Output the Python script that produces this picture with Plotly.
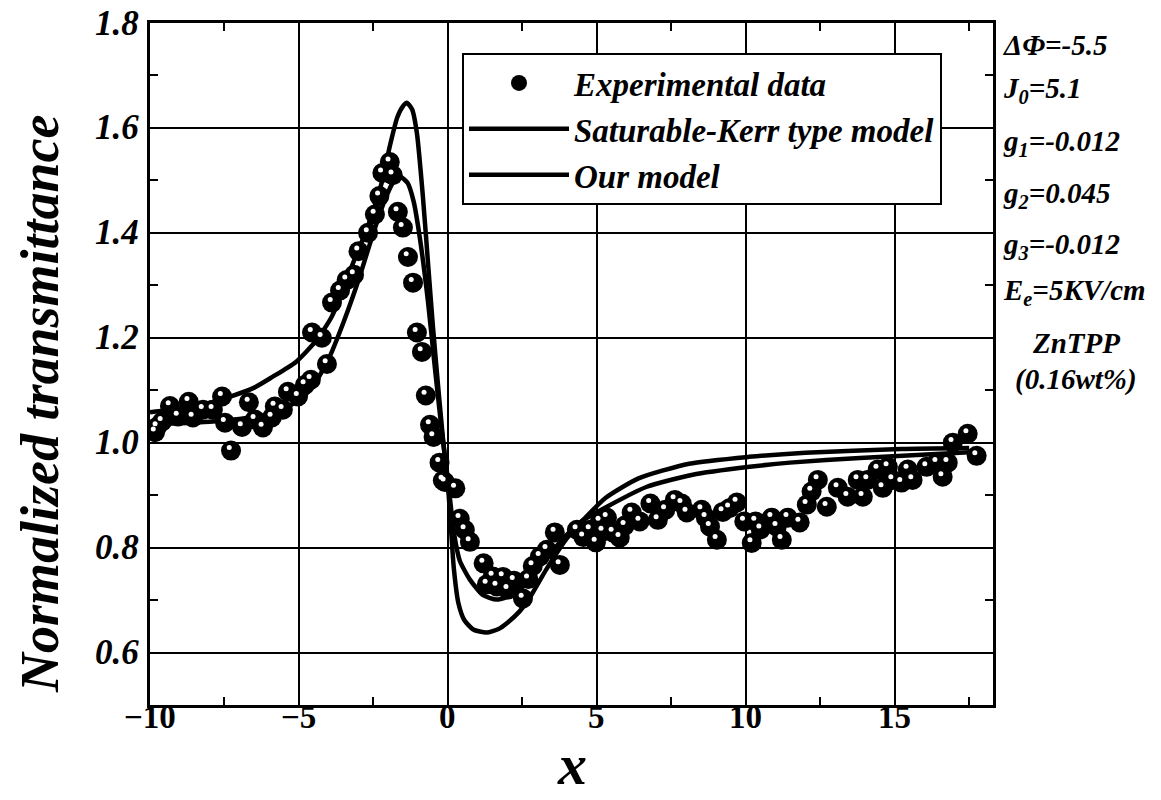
import plotly.graph_objects as go

# ---------------- data ----------------
exp_x = [-9.83, -9.77, -9.6, -9.33, -9.06, -8.7, -8.56, -8.22, -7.89, -7.58,
         -7.48, -7.28, -6.91, -6.68, -6.48, -6.21, -5.91, -5.81, -5.54, -5.37,
         -5.03, -4.8, -4.6, -4.56, -4.23, -4.06, -3.89, -3.62, -3.4, -3.15,
         -3.0, -2.68, -2.45, -2.3, -2.2, -1.95, -1.85, -1.68, -1.51, -1.34,
         -1.17, -1.04, -0.87, -0.74, -0.6, -0.48, -0.28, -0.17, -0.1, 0.25,
         0.4, 0.57, 0.74, 1.2, 1.31, 1.51, 1.64, 1.85, 2.01, 2.22,
         2.52, 2.7, 2.85, 3.09, 3.32, 3.59, 3.76, 4.33, 4.55, 4.77,
         4.97, 5.1, 5.2, 5.34, 5.54, 5.77, 5.94, 6.17, 6.44, 6.8,
         7.05, 7.3, 7.62, 7.85, 8.02, 8.52, 8.66, 8.8, 9.03, 9.23,
         9.45, 9.7, 9.95, 10.2, 10.33, 10.5, 10.87, 11.04, 11.21, 11.41,
         11.81, 12.05, 12.21, 12.42, 12.72, 13.09, 13.42, 13.76, 13.93, 14.09,
         14.43, 14.6, 14.77, 14.93, 15.23, 15.44, 15.6, 16.07, 16.41, 16.61,
         16.78, 16.95, 17.45, 17.75]
exp_y = [1.02, 1.03, 1.04, 1.07, 1.05, 1.078, 1.048, 1.063, 1.063, 1.088,
         1.038, 0.985, 1.03, 1.077, 1.044, 1.029, 1.048, 1.069, 1.063, 1.097,
         1.088, 1.11, 1.12, 1.21, 1.2, 1.15, 1.267, 1.29, 1.31, 1.32,
         1.365, 1.4, 1.435, 1.47, 1.514, 1.535, 1.51, 1.44, 1.41, 1.354,
         1.305, 1.21, 1.173, 1.09, 1.034, 1.011, 0.962, 0.928, 0.925, 0.913,
         0.855, 0.834, 0.811, 0.77, 0.73, 0.745, 0.726, 0.744, 0.72, 0.737,
         0.703, 0.74, 0.765, 0.783, 0.796, 0.829, 0.767, 0.834, 0.82, 0.834,
         0.81, 0.85, 0.831, 0.857, 0.829, 0.819, 0.842, 0.867, 0.85, 0.884,
         0.853, 0.872, 0.891, 0.884, 0.867, 0.872, 0.857, 0.84, 0.815, 0.868,
         0.875, 0.886, 0.85, 0.809, 0.85, 0.835, 0.857, 0.84, 0.815, 0.857,
         0.848, 0.882, 0.907, 0.929, 0.878, 0.914, 0.897, 0.929, 0.897, 0.929,
         0.949, 0.914, 0.954, 0.929, 0.924, 0.949, 0.929, 0.954, 0.962, 0.935,
         0.962, 1.0, 1.017, 0.975]

kerr_x = [-10, -9, -8, -7.3, -6.5, -5.9, -5.1, -4.4, -3.9, -3.6,
          -3.2, -2.7, -2.2, -1.95, -1.7, -1.5, -1.38, -1.2, -1.04, -0.84,
          -0.65, -0.5, -0.3, -0.1, 0.0, 0.1, 0.2, 0.35, 0.55, 0.85,
          1.3, 1.7, 2.0, 2.4, 2.7, 3.3, 4.0, 4.7, 5.3, 6.4,
          8.1, 10.1, 12.0, 15.2, 17.5]
kerr_y = [1.058, 1.065, 1.076, 1.088, 1.105, 1.125, 1.154, 1.196, 1.24, 1.28,
          1.34, 1.41, 1.5, 1.565, 1.62, 1.642, 1.648, 1.635, 1.59, 1.47,
          1.33, 1.22, 1.09, 0.97, 0.92, 0.84, 0.76, 0.695, 0.662, 0.644,
          0.638, 0.645, 0.657, 0.678, 0.7, 0.758, 0.818, 0.862, 0.895, 0.932,
          0.96, 0.973, 0.981, 0.988, 0.99]

our_x = [-10, -9, -8, -7, -6, -5, -4.5, -4.0, -3.5, -3.0,
         -2.5, -2.1, -1.8, -1.6, -1.35, -1.15, -0.94, -0.67, -0.45, -0.2,
         0.0, 0.2, 0.4, 0.74, 1.17, 1.64, 2.32, 3.0, 3.6, 4.0,
         4.43, 5.34, 6.68, 8.22, 10.13, 11.48, 13.83, 17.5]
our_y = [1.035, 1.037, 1.04, 1.045, 1.055, 1.08, 1.11, 1.16, 1.23, 1.31,
         1.4, 1.465, 1.5, 1.507, 1.495, 1.46, 1.39, 1.27, 1.15, 1.02,
         0.93, 0.83, 0.775, 0.739, 0.71, 0.701, 0.714, 0.76, 0.8, 0.825,
         0.848, 0.878, 0.916, 0.939, 0.954, 0.962, 0.971, 0.982]

x_ticks = [-10, -5, 0, 5, 10, 15]
y_ticks = [0.6, 0.8, 1.0, 1.2, 1.4, 1.6, 1.8]
params = ["ΔΦ=-5.5", "J<sub>0</sub>=5.1", "g<sub>1</sub>=-0.012", "g<sub>2</sub>=0.045",
          "g<sub>3</sub>=-0.012", "E<sub>e</sub>=5KV/cm"]
sample = ["ZnTPP", "(0.16wt%)"]

# ---------------- figure ----------------
SERIF = "'Times New Roman', 'Liberation Serif', Times, serif"
BI = dict(family=SERIF, color="black", weight="bold", style="italic")
fig = go.Figure()

fig.add_trace(go.Scatter(x=kerr_x, y=kerr_y, mode="lines", name="Saturable-Kerr type model",
                         line=dict(color="black", width=4.5, shape="spline", smoothing=0.6)))
fig.add_trace(go.Scatter(x=our_x, y=our_y, mode="lines", name="Our model",
                         line=dict(color="black", width=4.5, shape="spline", smoothing=0.6)))
fig.add_trace(go.Scatter(x=exp_x, y=exp_y, mode="markers", name="Experimental data",
                         marker=dict(color="black", size=20, symbol="circle", line=dict(width=0))))
# specular highlight of each ball (slightly up-left of the centre)
fig.add_trace(go.Scatter(x=[v - 0.06 for v in exp_x], y=[v + 0.006 for v in exp_y],
                         mode="markers", showlegend=False, hoverinfo="skip",
                         marker=dict(color="white", size=5, symbol="circle", line=dict(width=0))))

fig.data[2].legendrank = 1
fig.data[0].legendrank = 2
fig.data[1].legendrank = 3

# page body margin is removed by the post script, so the figure fills the window
W, H = 1161, 800
L, T = 150, 23
R, B = W - 993, H - 705
pw = W - L - R
ph = H - T - B

def py(p):
    return (H - B - p) / ph

def px(p):
    return (p - L) / pw

axis_common = dict(showline=True, linecolor="black", linewidth=3, mirror="allticks",
                   ticks="inside", ticklen=10, tickwidth=2, tickcolor="black",
                   showgrid=True, gridcolor="black", gridwidth=2, zeroline=False,
                   automargin=False, showticklabels=False)

fig.update_xaxes(range=[-10, 18.3], tickvals=x_ticks,
                 minor=dict(ticks="inside", ticklen=8, tickwidth=2, tickcolor="black", dtick=2.5,
                            tick0=-10, showgrid=False),
                 **axis_common)
fig.update_yaxes(range=[0.5, 1.8], tickvals=y_ticks,
                 minor=dict(ticks="inside", ticklen=8, tickwidth=2, tickcolor="black", dtick=0.1,
                            tick0=0.5, showgrid=False),
                 **axis_common)

annos = []
# tick labels, placed through the axis scales
for v in x_ticks:
    annos.append(dict(text=str(v).replace("-", "\u2212"), xref="x", yref="paper", x=v, y=py(717),
                      xanchor="center", yanchor="middle", showarrow=False,
                      font=dict(family=SERIF, size=33, color="black", weight="bold")))
for v in y_ticks:
    annos.append(dict(text=f"{v:.1f}", xref="paper", yref="y", x=px(141), y=v,
                      xanchor="right", yanchor="middle", showarrow=False,
                      font=dict(size=35, **BI)))
# axis titles
annos.append(dict(text="x", xref="paper", yref="paper", x=px(572), y=py(799),
                  xanchor="center", yanchor="bottom", showarrow=False,
                  font=dict(size=58, **BI)))
annos.append(dict(text="Normalized transmittance", xref="paper", yref="paper", x=px(40), y=py(404),
                  xanchor="center", yanchor="middle", showarrow=False, textangle=-90,
                  font=dict(size=54, **BI)))
# parameter block on the right
param_ys = [45, 90, 143, 195, 246, 292]
for t, yy in zip(params, param_ys):
    annos.append(dict(text=t, xref="paper", yref="paper", x=px(1001), y=py(yy), xanchor="left",
                      yanchor="middle", showarrow=False, font=dict(size=29, **BI)))
for t, yy in zip(sample, [343, 379]):
    annos.append(dict(text=t, xref="paper", yref="paper", x=px(1076), y=py(yy), xanchor="center",
                      yanchor="middle", showarrow=False, font=dict(size=29, **BI)))

fig.update_layout(
    width=W, height=H,
    margin=dict(l=L, r=R, t=T, b=B, pad=0),
    paper_bgcolor="white", plot_bgcolor="white",
    annotations=annos,
    legend=dict(x=px(462), y=py(53), xanchor="left", yanchor="top",
                bgcolor="white", bordercolor="black", borderwidth=2,
                font=dict(size=33, **BI),
                itemwidth=100, tracegroupgap=0),
)

fig.write_html("out.html", config={"displayModeBar": False},
               post_script="document.body.style.margin='0';document.body.style.overflow='hidden';")
